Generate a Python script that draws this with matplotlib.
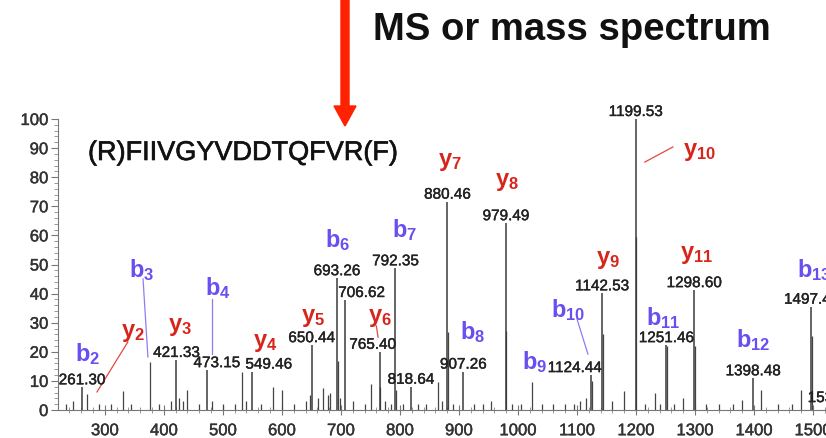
import numpy as np
import matplotlib.pyplot as plt
import matplotlib.patheffects as pe
from matplotlib.patches import FancyArrow
from matplotlib.ticker import MultipleLocator

plt.rcParams['font.family'] = ['Liberation Sans', 'DejaVu Sans']
plt.rcParams['mathtext.fontset'] = 'custom'
plt.rcParams['mathtext.rm'] = 'Liberation Sans'
plt.rcParams['mathtext.bf'] = 'Liberation Sans:bold'

# labelled peaks: m/z and relative intensity (%)
label_mz = [261.30, 421.33, 473.15, 549.46, 650.44, 693.26, 706.62, 765.40,
            792.35, 818.64, 880.46, 907.26, 979.49, 1124.44, 1142.53, 1199.53,
            1251.46, 1298.60, 1398.48, 1497.41, 1530.60]
label_int = [7.8, 17.2, 13.7, 13.2, 22.3, 45.3, 37.8, 20.0,
             48.7, 8.0, 71.6, 13.2, 64.2, 12.0, 40.1, 100.0,
             22.3, 41.2, 10.9, 35.5, 1.7]

# unlabelled peaks (isotopes, small fragments)
other_mz = [235, 246, 270, 290, 310, 330, 345, 375.9, 392, 412, 425, 432, 440,
            460, 482, 500, 520, 532, 540, 565, 585, 600, 620, 640, 648, 662,
            670, 678, 682, 694.3, 698, 720, 740, 751, 766.4, 775, 785, 793.4,
            806, 830, 845, 864, 872, 881.5, 890, 925, 940, 955, 980.5, 990,
            1005, 1023, 1040, 1060, 1080, 1095, 1105, 1115, 1125.4, 1143.5,
            1160, 1179, 1200.5, 1215, 1233, 1240, 1252.5, 1265, 1279, 1299.6,
            1318, 1340, 1365, 1380, 1412, 1440, 1465, 1480, 1498.4]
other_int = [2, 3, 5.5, 2, 2, 6.5, 2, 16.4, 2, 3, 4, 3, 7,
             2, 3, 2, 2, 13, 3, 2, 8, 7, 2, 3, 5, 4,
             7.7, 5, 6, 17, 4, 3, 2, 9, 8, 3, 2, 7,
             2, 2, 2, 9.5, 3, 26.8, 2, 2, 2, 3, 27.3, 2,
             2, 9.5, 2, 2, 2, 2, 3, 4, 10, 26,
             3, 6.6, 59.5, 2, 5.7, 2, 22, 2, 4, 22,
             2, 2, 2, 3.5, 7, 2, 2, 7, 25.5]

# fragment ion annotations
ion_names = ['b2', 'y2', 'b3', 'y3', 'b4', 'y4', 'y5', 'b6', 'y6', 'b7', 'y7',
             'y8', 'b8', 'b9', 'b10', 'y9', 'y10', 'b11', 'y11', 'b12', 'b13']
ion_x = [271, 347.7, 363, 427, 491.7, 571.4, 652.7, 695, 766, 808.5, 884.8,
         981, 923.8, 1028.8, 1084.8, 1152, 1308, 1245.7, 1303, 1398, 1502]
ion_y = [19.6, 26.8, 48.5, 28.9, 42.3, 23.4, 32, 58.8, 32, 62.2, 85.6,
         78.7, 27.1, 16.8, 34.7, 51.9, 89, 32, 53.6, 24.4, 48.5]

# leader lines from ion labels to peaks
leaders = [('y', (286.7, 339), (6.2, 23.4)),
           ('b', (364.7, 373), (45, 18.2)),
           ('b', (481.6, 481.6), (38, 19.2)),
           ('y', (760, 763), (28.9, 25)),
           ('b', (1100, 1118.6), (31.3, 19.2)),
           ('y', (1215, 1262.6), (85.2, 90.4))]

label_dx = {473.15: 7, 549.46: 12, 706.62: 12, 765.40: -5, 1124.44: -12, 1530.60: 3}

blue = '#6a4ff0'
red = '#d8251c'
heavy = [pe.withStroke(linewidth=0.5, foreground='#222222')]

fig = plt.figure(figsize=(8.26, 4.39), dpi=100)
ax = fig.add_axes([58 / 826, 28 / 439, 1 - 58 / 826, 291 / 439])

ax.vlines(other_mz, 0, other_int, color='#444444', lw=0.9)
ax.vlines(label_mz, 0, label_int, color='#3a3a3a', lw=1.1)

for mz, h in zip(label_mz, label_int):
    ax.annotate(f'{mz:.2f}', xy=(mz, h), xytext=(label_dx.get(mz, 0), 0),
                textcoords='offset points', ha='center', va='bottom',
                fontsize=11, color='#222222', annotation_clip=False,
                path_effects=[pe.withStroke(linewidth=0.3, foreground='#222222')])

for name, x, y in zip(ion_names, ion_x, ion_y):
    c = blue if name[0] == 'b' else red
    ax.text(x, y, r'$\mathbf{%s_{%s}}$' % (name[0], name[1:]), color=c,
            fontsize=17, ha='center', va='center', clip_on=False)

for kind, xs, ys in leaders:
    ax.plot(xs, ys, color='#8f7cf5' if kind == 'b' else '#e04a40', lw=0.9)

ax.set_xlim(220.6, 1522)
ax.set_ylim(0, 100)
ax.set_xticks(np.arange(300, 1501, 100))
ax.set_yticks(np.arange(0, 101, 10))
ax.xaxis.set_minor_locator(MultipleLocator(20))
ax.yaxis.set_minor_locator(MultipleLocator(2))
ax.tick_params(axis='x', which='major', direction='inout', length=7, width=0.8,
               color='#777777', labelsize=12, labelcolor='#333333', pad=6)
ax.tick_params(axis='x', which='minor', direction='inout', length=4, width=0.6,
               color='#888888')
ax.tick_params(axis='y', which='major', direction='out', length=5, width=0.8,
               color='#777777', labelsize=12, labelcolor='#333333', pad=2)
ax.tick_params(axis='y', which='minor', direction='out', length=3, width=0.6,
               color='#888888')
for lab in ax.get_xticklabels() + ax.get_yticklabels():
    lab.set_path_effects([pe.withStroke(linewidth=0.3, foreground='#333333')])
for s in ['top', 'right']:
    ax.spines[s].set_visible(False)
for s in ['left', 'bottom']:
    ax.spines[s].set_color('#777777')

fig.text(88 / 826, 1 - 154 / 439, '(R)FIIVGYVDDTQFVR(F)', fontsize=19.5,
         ha='left', va='center', color='#111111', path_effects=heavy)
fig.text(373 / 826, 1 - 30 / 439, 'MS or mass spectrum', fontsize=27.5,
         fontweight='bold', ha='left', va='center', color='#111111')

arrow = FancyArrow(3.45, 4.39, 0, -1.27, width=0.08, head_width=0.22,
                   head_length=0.20, length_includes_head=True,
                   color='#ff2200', transform=fig.dpi_scale_trans)
fig.add_artist(arrow)

fig.savefig('out.png', dpi=100)
